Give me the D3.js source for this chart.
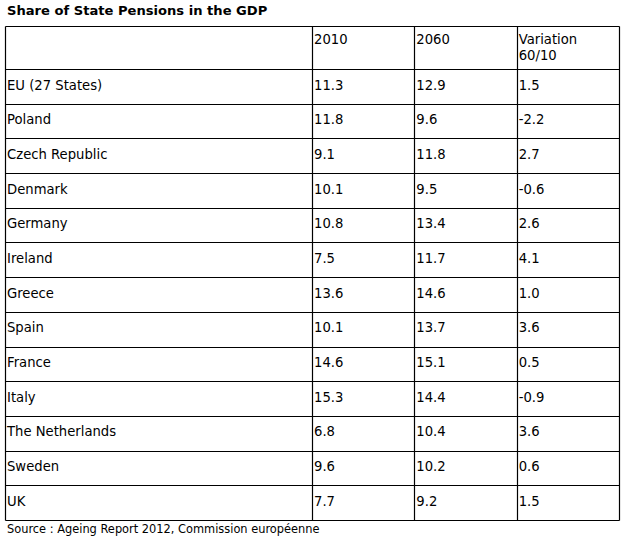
<!DOCTYPE html>
<html>
<head>
<meta charset="utf-8">
<script src="https://cdn.jsdelivr.net/npm/d3@7"></script>
<style>
  body { margin: 0; background: #fff; }
  svg { display: block; }
  text { font-family: "DejaVu Sans", Verdana, sans-serif; fill: #000; }
</style>
</head>
<body>
<script>
// table content
const title = "Share of State Pensions in the GDP";
const source = "Source : Ageing Report 2012, Commission européenne";
const headers = [["2010"], ["2060"], ["Variation", "60/10"]];
const countries = ["EU (27 States)", "Poland", "Czech Republic", "Denmark", "Germany", "Ireland",
    "Greece", "Spain", "France", "Italy", "The Netherlands", "Sweden", "UK"];
const v2010 = ["11.3", "11.8", "9.1", "10.1", "10.8", "7.5", "13.6", "10.1", "14.6", "15.3", "6.8", "9.6", "7.7"];
const v2060 = ["12.9", "9.6", "11.8", "9.5", "13.4", "11.7", "14.6", "13.7", "15.1", "14.4", "10.4", "10.2", "9.2"];
const variation = ["1.5", "-2.2", "2.7", "-0.6", "2.6", "4.1", "1.0", "3.6", "0.5", "-0.9", "3.6", "0.6", "1.5"];

const W = 625, H = 537;
const tLeft = 5.5, tRight = 619.5, tTop = 26.5, headBottom = 69.5, tBottom = 520.5, firstColEnd = 312.5;

const svg = d3.select("body").append("svg")
    .attr("width", W)
    .attr("height", H);

const y = d3.scaleBand()
    .domain(countries)
    .range([headBottom, tBottom]);

const x = d3.scaleBand()
    .domain(d3.range(3))
    .range([firstColEnd, tRight]);

svg.append("text")
    .attr("x", 7)
    .attr("y", 15)
    .style("font-size", "13.1px")
    .style("font-weight", "bold")
    .text(title);

const g = svg.append("g");

// horizontal rules
const hLines = [tTop, headBottom].concat(countries.map(c => y(c) + y.bandwidth()));
g.selectAll("line.h")
    .data(hLines)
    .enter().append("line")
    .attr("class", "h")
    .attr("x1", tLeft).attr("x2", tRight)
    .attr("y1", d => Math.round(d - 0.5) + 0.5)
    .attr("y2", d => Math.round(d - 0.5) + 0.5)
    .attr("stroke", "#000")
    .attr("stroke-width", 1.2);

// vertical rules
const vLines = [tLeft].concat(d3.range(3).map(i => x(i)), [tRight]);
g.selectAll("line.v")
    .data(vLines)
    .enter().append("line")
    .attr("class", "v")
    .attr("x1", d => Math.round(d - 0.5) + 0.5)
    .attr("x2", d => Math.round(d - 0.5) + 0.5)
    .attr("y1", tTop).attr("y2", tBottom)
    .attr("stroke", "#000")
    .attr("stroke-width", 1.2);

// header cells
headers.forEach((lines, i) => {
    const t = g.append("text")
        .attr("x", x(i) + 1.5)
        .attr("y", 44)
        .style("font-size", "13.2px");
    lines.forEach((l, k) => {
        t.append("tspan")
            .attr("x", x(i) + 1.5)
            .attr("dy", k === 0 ? 0 : 16)
            .text(l);
    });
});

// body rows
const rows = countries.map((c, i) => [c, v2010[i], v2060[i], variation[i]]);
const rowG = g.selectAll("g.row")
    .data(rows)
    .enter().append("g")
    .attr("class", "row")
    .attr("transform", d => "translate(0," + y(d[0]) + ")");

rowG.selectAll("text")
    .data(d => d)
    .enter().append("text")
    .attr("x", (d, i) => (i === 0 ? tLeft : x(i - 1)) + 1.5)
    .attr("y", 20)
    .style("font-size", "13.2px")
    .text(d => d);

svg.append("text")
    .attr("x", 7)
    .attr("y", 533)
    .style("font-size", "11.4px")
    .text(source);
</script>
</body>
</html>
